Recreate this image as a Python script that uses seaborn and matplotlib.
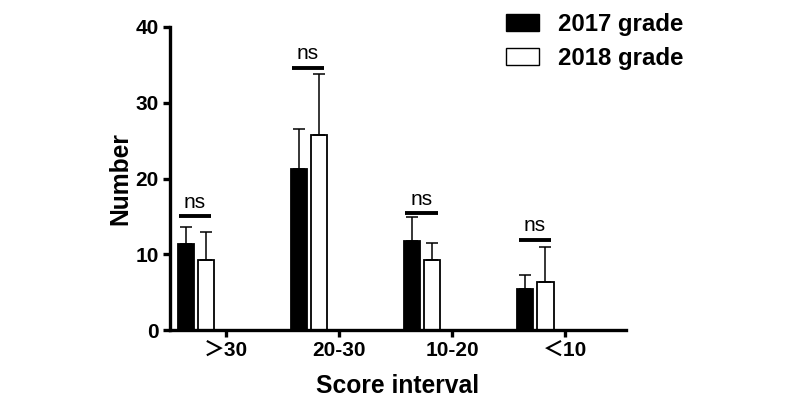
import matplotlib
matplotlib.use("Agg")
import matplotlib.pyplot as plt
import seaborn as sns
import pandas as pd
import numpy as np
from matplotlib.patches import Patch

categories = ["＞30", "20-30", "10-20", "＜10"]
series = ["2017 grade", "2018 grade"]
mean_2017 = [11.35, 21.3, 11.75, 5.4]
mean_2018 = [9.3, 25.7, 9.3, 6.4]
err_2017 = [2.25, 5.3, 3.15, 1.9]
err_2018 = [3.7, 8.1, 2.2, 4.5]
ns_level = [15.0, 34.6, 15.4, 11.9]
sig_labels = ["ns", "ns", "ns", "ns"]

sns.set_style("ticks")
plt.rcParams['font.family'] = ['Liberation Sans', 'Noto Sans CJK SC', 'DejaVu Sans']
plt.rcParams['text.color'] = 'black'
plt.rcParams['axes.labelcolor'] = 'black'
plt.rcParams['xtick.color'] = 'black'
plt.rcParams['ytick.color'] = 'black'
plt.rcParams['axes.edgecolor'] = 'black'

df = pd.DataFrame({
    "cat": categories * 2,
    "grade": [series[0]] * 4 + [series[1]] * 4,
    "val": mean_2017 + mean_2018,
})

fig = plt.figure(figsize=(8, 4.01), dpi=100)
ax = fig.add_axes([170/800, 1-330/401, (626-170)/800, (330-27)/401])

sns.barplot(data=df, x="cat", y="val", hue="grade", order=categories,
            hue_order=series, palette=["black", "white"], width=0.354, gap=0.2,
            edgecolor="black", linewidth=1.3, errorbar=None, ax=ax, legend=False)

# error bars (upper only)
pos = np.arange(len(categories))
off = 0.354 / 4
ax.errorbar(pos - off, mean_2017, yerr=[np.zeros(4), err_2017], fmt="none",
            ecolor="black", elinewidth=1.1, capsize=4, capthick=1.1, zorder=1)
ax.errorbar(pos + off, mean_2018, yerr=[np.zeros(4), err_2018], fmt="none",
            ecolor="black", elinewidth=1.1, capsize=4, capthick=1.1, zorder=1)

# significance lines
for i, (lv, lab) in enumerate(zip(ns_level, sig_labels)):
    ax.plot([i - 0.15, i + 0.135], [lv, lv], color="black", lw=2.8, solid_capstyle="butt")
    ax.text(i - 0.01, lv + 0.6, lab, ha="center", va="bottom", fontsize=15)

ax.set_ylim(0, 40)
ax.set_yticks([0, 10, 20, 30, 40])
ax.set_xlim(-0.23, 3.8)
ax.set_xticks(pos + 0.265)
ax.set_xticklabels(categories)
for t in ax.get_xticklabels() + ax.get_yticklabels():
    t.set_fontweight("bold")
    t.set_fontsize(15)
ax.set_xlabel("Score interval", fontsize=17.7, fontweight="bold", labelpad=10)
ax.set_ylabel("Number", fontsize=17.7, fontweight="bold", labelpad=2)
sns.despine(ax=ax)
for s in ["left", "bottom"]:
    ax.spines[s].set_linewidth(2.4)
ax.tick_params(width=2.4, length=5, pad=3)

handles = [Patch(facecolor="black", edgecolor="black", label=series[0]),
           Patch(facecolor="white", edgecolor="black", label=series[1])]
fig.legend(handles=handles, loc="upper left", bbox_to_anchor=(484/800, 1.022),
           frameon=False, prop={"weight": "bold", "size": 17.3},
           handlelength=1.4, handleheight=0.7, handletextpad=0.8, labelspacing=0.45)

fig.savefig("out.png", dpi=100)
